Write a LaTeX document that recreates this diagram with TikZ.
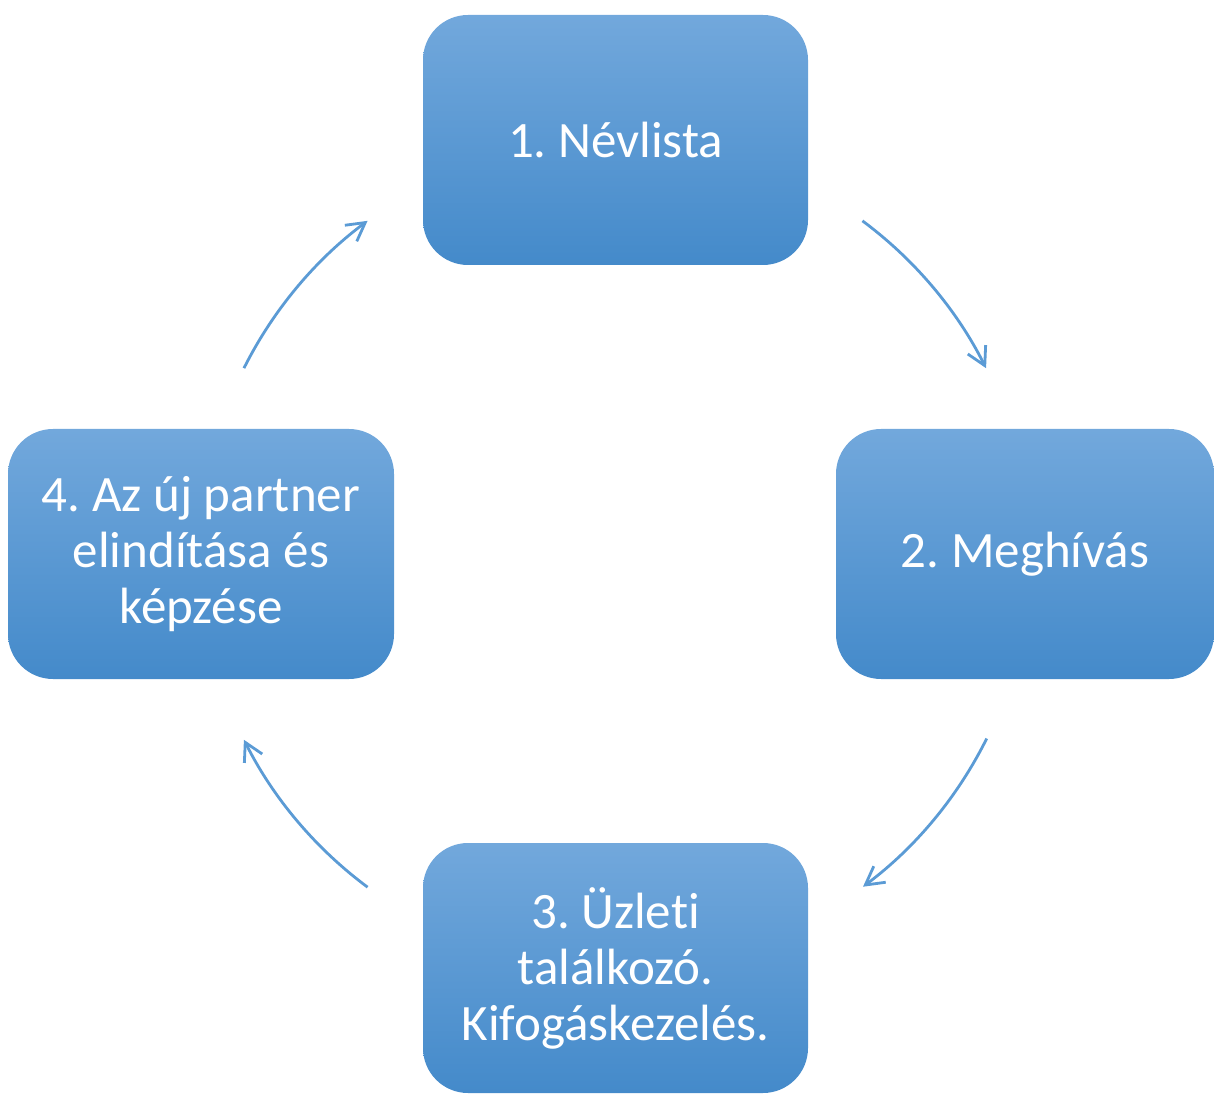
\documentclass[tikz,border=0pt]{standalone}
\usepackage{fontspec}
\setmainfont[Ligatures={NoCommon}]{Carlito}
\usetikzlibrary{arrows.meta,calc}
\definecolor{boxtop}{RGB}{114,168,220}
\definecolor{boxbot}{RGB}{68,138,202}
\definecolor{arrcol}{RGB}{91,155,213}
\tikzset{
  stepbox/.style={rounded corners=22.5pt, top color=boxtop, bottom color=boxbot,
    minimum width=192.5pt, minimum height=125pt, inner sep=0pt, align=center,
    text=white, font=\fontsize{25.5}{28}\selectfont},
  cyclearrow/.style={draw=arrcol, line width=1.4pt, -{Straight Barb[length=9pt,width=10pt]}}
}
\frenchspacing
\begin{document}
\begin{tikzpicture}[x=0.5pt,y=0.5pt]
\useasboundingbox (0,0) rectangle (1214,1093);
\node[stepbox] (b1) at (615.5,953) {1. Névlista};
\node[stepbox, minimum width=189pt] (b2) at (1025,539) {2. Meghívás};
\node[stepbox] (b3) at (615.5,125) {3. Üzleti\\találkozó.\\Kifogáskezelés.};
\node[stepbox, minimum width=193pt] (b4) at (201,539) {4. Az új partner\\elindítása és\\képzése};
\coordinate (c) at (615,539);
\coordinate (s1) at ($(c)+(53.4:415)$);
\coordinate (s2) at ($(c)+(-26.4:415)$);
\coordinate (s3) at ($(c)+(-126.6:415)$);
\coordinate (s4) at ($(c)+(153.4:415)$);
\draw[cyclearrow] (s1) arc[start angle=53.4, end angle=26.6, radius=415];
\draw[cyclearrow] (s2) arc[start angle=-26.4, end angle=-53.3, radius=415];
\draw[cyclearrow] (s3) arc[start angle=-126.6, end angle=-153.4, radius=415];
\draw[cyclearrow] (s4) arc[start angle=153.4, end angle=126.6, radius=415];
\end{tikzpicture}
\end{document}
